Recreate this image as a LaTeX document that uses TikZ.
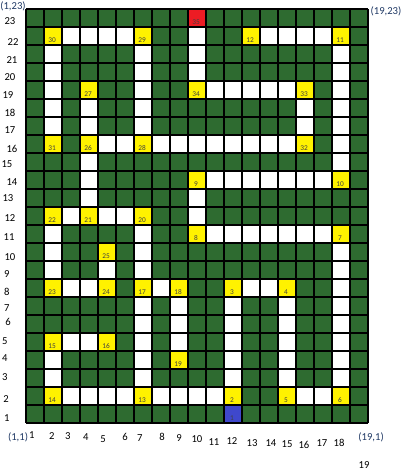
\documentclass[tikz,border=0pt]{standalone}
\usepackage{fontspec}
\setmainfont{Carlito}
\definecolor{wallgreen}{RGB}{46,107,48}
\definecolor{stopyellow}{RGB}{255,242,0}
\definecolor{startblue}{RGB}{63,72,204}
\definecolor{goalred}{RGB}{237,28,36}
\definecolor{coordblue}{RGB}{31,56,100}

\begin{document}
\begin{tikzpicture}[x=13.5pt,y=13.5pt,
    wallcell/.style={fill=wallgreen},
    pathcell/.style={fill=white},
    stopcell/.style={fill=stopyellow},
    num/.style={font=\fontsize{5.5}{6}\selectfont,text=black!75,inner sep=0pt},
    axis/.style={font=\fontsize{8}{9}\selectfont,inner sep=0pt},
    corner/.style={axis,text=coordblue}]
  \useasboundingbox (-1.444,-2.944) rectangle (21.222,23.5);
  % walls
  \fill[wallcell] (0,0) rectangle (19,23);
  % open path, row by row
  \foreach \r/\cols in {22/{3,4,5,6,10,14,15,16,17},
      21/{2,7,10,18}, 20/{2,7,10,18}, 19/{2,7,11,12,13,14,15,18},
      18/{2,4,7,16,18}, 17/{2,4,7,16,18},
      16/{5,6,8,9,10,11,12,13,14,15,18}, 15/{4,18},
      14/{4,11,12,13,14,15,16,17}, 13/{4,10}, 12/{3,5,6,10},
      11/{2,7,11,12,13,14,15,16,17}, 10/{2,7,18}, 9/{2,5,7,18},
      8/{3,4,8,13,14,18}, 7/{7,9,12,15,18}, 6/{7,9,12,15,18},
      5/{3,4,7,9,12,15,18}, 4/{2,7,12,15,18}, 3/{2,7,12,15,18},
      2/{3,4,5,6,8,9,10,11,16,17}}
    \foreach \c in \cols
      \fill[pathcell] (\c-1,\r-1) rectangle (\c,\r);
  % numbered stops
  \foreach \c/\r/\n in {12/2/2, 12/8/3, 15/8/4, 15/2/5, 18/2/6,
      18/11/7, 10/11/8, 10/14/9, 18/14/10, 18/22/11, 13/22/12,
      7/2/13, 2/2/14, 2/5/15, 5/5/16, 7/8/17, 9/8/18, 9/4/19,
      7/12/20, 4/12/21, 2/12/22, 2/8/23, 5/8/24, 5/10/25,
      4/16/26, 4/19/27, 7/16/28, 7/22/29, 2/22/30, 2/16/31,
      16/16/32, 16/19/33, 10/19/34}
    \fill[stopcell] (\c-1,\r-1) rectangle (\c,\r);
  \fill[startblue] (11,0) rectangle (12,1);
  \fill[goalred] (9,22) rectangle (10,23);
  \draw[line width=1.3pt,step=1] (0,0) grid (19,23);
  \foreach \c/\r/\n in {12/1/1, 12/2/2, 12/8/3, 15/8/4, 15/2/5, 18/2/6,
      18/11/7, 10/11/8, 10/14/9, 18/14/10, 18/22/11, 13/22/12,
      7/2/13, 2/2/14, 2/5/15, 5/5/16, 7/8/17, 9/8/18, 9/4/19,
      7/12/20, 4/12/21, 2/12/22, 2/8/23, 5/8/24, 5/10/25,
      4/16/26, 4/19/27, 7/16/28, 7/22/29, 2/22/30, 2/16/31,
      16/16/32, 16/19/33, 10/19/34, 10/23/35}
    \node[num] (s\n) at (\c-0.55,\r-0.72) {\n};
  % axis labels
  \foreach \r/\lx/\ly in {23/-0.89/22.33, 22/-0.72/21.17, 21/-0.78/20.17,
      20/-0.89/19.22, 19/-1.0/18.22, 18/-0.89/17.22, 17/-0.89/16.28,
      16/-0.78/15.22, 15/-1.06/14.39, 14/-0.78/13.39, 13/-1.0/12.5,
      12/-0.89/11.39, 11/-0.94/10.33, 10/-0.89/9.22, 9/-1.06/8.28,
      8/-1.06/7.28, 7/-1.06/6.39, 6/-1.0/5.61, 5/-1.17/4.56,
      4/-1.17/3.61, 3/-1.17/2.56, 2/-1.11/1.33, 1/-1.06/0.28}
    \node[axis] (row\r) at (\lx,\ly) {\r};
  \foreach \c/\lx/\ly in {1/0.33/-0.67, 2/1.44/-0.72, 3/2.33/-0.72,
      4/3.33/-0.78, 5/4.28/-0.89, 6/5.5/-0.78, 7/6.33/-0.83,
      8/7.56/-0.78, 9/8.5/-0.83, 10/9.5/-0.89, 11/10.44/-1.06,
      12/11.44/-1.0, 13/12.56/-1.11, 14/13.61/-1.11, 15/14.5/-1.17,
      16/15.44/-1.22, 17/16.44/-1.11, 18/17.39/-1.11, 19/18.78/-2.33}
    \node[axis] (col\c) at (\lx,\ly) {\c};
  \node[corner] (bl) at (-0.44,-0.78) {(1,1)};
  \node[corner] (br) at (19.17,-0.78) {(19,1)};
  \node[corner] (tl) at (-0.72,23.17) {(1,23)};
  \node[corner] (tr) at (20.0,22.89) {(19,23)};
\end{tikzpicture}
\end{document}
